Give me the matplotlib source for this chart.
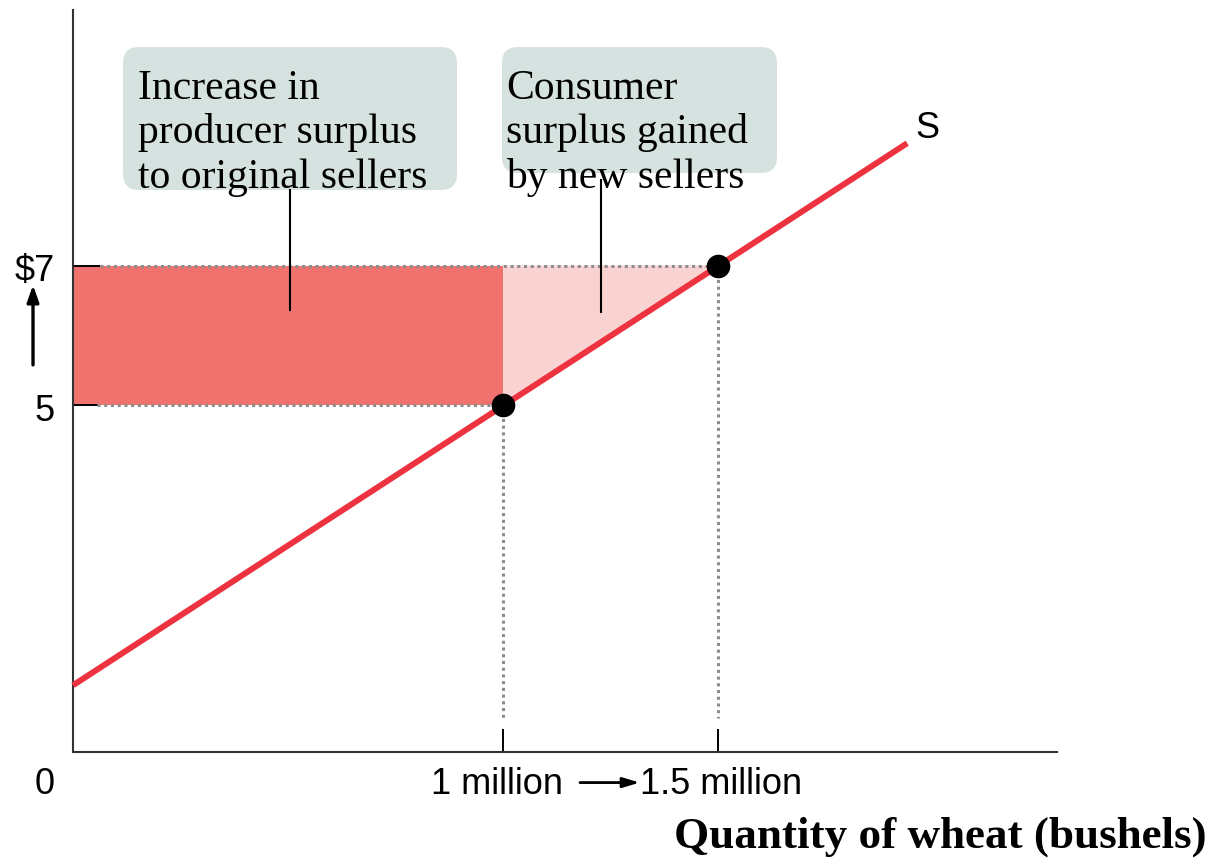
import matplotlib
matplotlib.use("Agg")
import matplotlib.pyplot as plt
from matplotlib.patches import FancyBboxPatch, Polygon, Rectangle

# ---- data (quantity in millions of bushels, price in $) ----
supply_q = [0.0, 1.94]
supply_p = [0.96, 8.76]
old_q, old_p = 1.0, 5.0
new_q, new_p = 1.5, 7.0
x_tick_labels = ["1 million", "1.5 million"]
y_tick_labels = ["5", "$7"]
box_texts = [["Increase in", "producer surplus", "to original sellers"],
             ["Consumer", "surplus gained", "by new sellers"]]
xlabel = "Quantity of wheat (bushels)"

RED = "#ee3340"
DARK = "#f0726e"
LIGHT = "#f9d3d1"
BOX = "#d6e2e0"
GRAY = "#8c8c8c"
SANS = "Liberation Sans"
SERIF = "Liberation Serif"

fig = plt.figure(figsize=(12.15, 8.59), dpi=100)
W, H = 1215, 859
ax = fig.add_axes([73 / W, (H - 752) / H, (1057 - 73) / W, (752 - 10) / H])
ax.set_xlim(0, (1057 - 73) / 430)
ax.set_ylim(0, (752 - 10) / 69.5)
for s in ["top", "right"]:
    ax.spines[s].set_visible(False)
for s in ["left", "bottom"]:
    ax.spines[s].set_color("#333333")
    ax.spines[s].set_linewidth(1.5)
ax.set_xticks([old_q, new_q], labels=["", ""])
ax.set_yticks([old_p, new_p], labels=["", ""])
ax.tick_params(axis="y", direction="in", length=19.5, width=1.4, color="black")
ax.tick_params(axis="x", direction="in", length=16.5, width=1.4, color="black")

# filled areas
ax.add_patch(Rectangle((0, old_p), old_q, new_p - old_p, facecolor=DARK, edgecolor="none", zorder=1))
ax.add_patch(Polygon([(old_q, new_p), (new_q, new_p), (old_q, old_p)], closed=True,
                     facecolor=LIGHT, edgecolor="none", zorder=1))

# dotted guides
dot_kw = dict(color=GRAY, lw=2.2, linestyle=(0, (1, 1.2)), zorder=2)
ax.plot([0.063, new_q], [new_p, new_p], **dot_kw)
ax.plot([0.056, old_q], [old_p, old_p], **dot_kw)
ax.plot([old_q, old_q], [old_p, 0.49], **dot_kw)
ax.plot([new_q, new_q], [new_p, 0.49], **dot_kw)

# supply curve
ax.plot(supply_q, supply_p, color=RED, lw=4.3, solid_capstyle="butt", zorder=3, clip_on=False)
ax.text(1.988, 8.97, "S", fontsize=26, family=SANS, ha="center", va="center")

# points
ax.plot([old_q, new_q], [old_p, new_p], "o", color="black", ms=16, zorder=4)

# boxes
mut = 430 / 69.5
boxes = [(123, 457, 47, 190), (502, 777, 47, 173)]
for (x0, x1, y0, y1), lines in zip(boxes, box_texts):
    bx0 = (x0 - 73) / 430
    bx1 = (x1 - 73) / 430
    by0 = (752 - y1) / 69.5
    by1 = (752 - y0) / 69.5
    ax.add_patch(FancyBboxPatch((bx0, by0), bx1 - bx0, by1 - by0,
                                boxstyle="round,pad=0,rounding_size=%f" % (16 / 430),
                                mutation_aspect=mut, facecolor=BOX, edgecolor="none",
                                zorder=2, clip_on=False))
    for i, t in enumerate(lines):
        by = (752 - (99 + 44.5 * i)) / 69.5
        ax.text(bx0 + 15 / 430 if x0 == 123 else bx0 + 4 / 430, by, t, fontsize=30,
                family=SERIF, ha="left", va="baseline", zorder=5, clip_on=False)

# leader lines
ax.plot([(290 - 73) / 430] * 2, [(752 - 190) / 69.5, (752 - 310) / 69.5], color="black", lw=1.5, zorder=5)
ax.plot([(601 - 73) / 430] * 2, [(752 - 180) / 69.5, (752 - 312) / 69.5], color="black", lw=1.5, zorder=5)

# axis labels
ax.text(-0.042, 6.92, y_tick_labels[1], fontsize=26, family=SANS, ha="right", va="center", clip_on=False)
ax.text(-0.042, 4.90, y_tick_labels[0], fontsize=26, family=SANS, ha="right", va="center", clip_on=False)
ax.text(-0.065, -0.47, "0", fontsize=26, family=SANS, ha="center", va="center", clip_on=False)
ax.text(0.986, -0.47, x_tick_labels[0], fontsize=26, family=SANS, ha="center", va="center", clip_on=False)
ax.text(1.507, -0.47, x_tick_labels[1], fontsize=26, family=SANS, ha="center", va="center", clip_on=False)
ax.annotate("", xy=(1.318, -0.44), xytext=(1.179, -0.44),
            arrowprops=dict(arrowstyle="-|>,head_length=1.0,head_width=0.3", color="black", lw=2,
                            shrinkA=0, shrinkB=0),
            annotation_clip=False)
ax.annotate("", xy=(-0.093, 6.72), xytext=(-0.093, 5.57),
            arrowprops=dict(arrowstyle="-|>,head_length=1.0,head_width=0.35", color="black", lw=2.4,
                            shrinkA=0, shrinkB=0),
            annotation_clip=False)
ax.text(2.637, -1.38, xlabel, fontsize=32.5, family=SERIF, weight="bold",
        ha="right", va="baseline", clip_on=False)

fig.savefig("out.png", dpi=100)
